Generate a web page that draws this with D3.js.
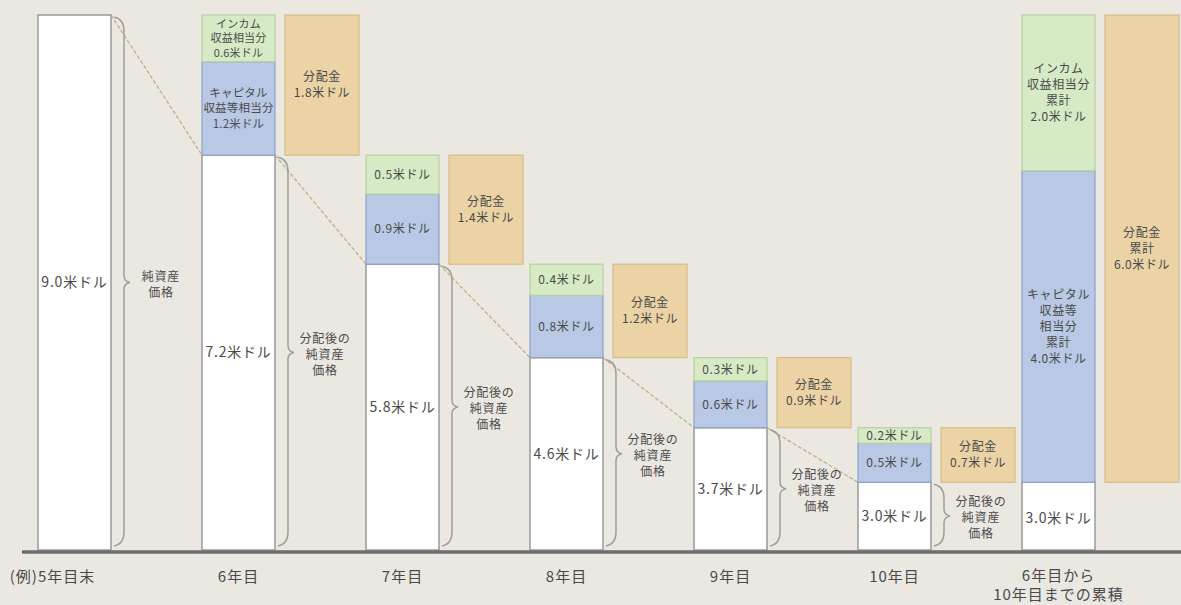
<!DOCTYPE html>
<html>
<head>
<meta charset="utf-8">
<script src="https://cdn.jsdelivr.net/npm/d3@7"></script>
<style>
  body { margin: 0; background: #ebe8e2; }
  svg text { font-family: "Noto Sans CJK JP", "Noto Sans", sans-serif; fill: #4a4a4a; }
</style>
</head>
<body>
<svg width="1181" height="605"></svg>
<script>
// categories (x axis)
const years = ["(例)5年目末", "6年目", "7年目", "8年目", "9年目", "10年目", "6年目から\n10年目までの累積"];
// net asset value after distribution (white part)
const netAsset = [9.0, 7.2, 5.8, 4.6, 3.7, 3.0, 3.0];
// capital gain part (blue)
const capital = [0, 1.2, 0.9, 0.8, 0.6, 0.5, 4.0];
// income part (green)
const income = [0, 0.6, 0.5, 0.4, 0.3, 0.2, 2.0];
// distribution (orange)
const distribution = [0, 1.8, 1.4, 1.2, 0.9, 0.7, 6.0];

// label prefixes
const incomePrefix = ["", "インカム\n収益相当分\n", "", "", "", "", "インカム\n収益相当分\n累計\n"];
const capitalPrefix = ["", "キャピタル\n収益等相当分\n", "", "", "", "", "キャピタル\n収益等\n相当分\n累計\n"];
const distPrefix = ["", "分配金\n", "分配金\n", "分配金\n", "分配金\n", "分配金\n", "分配金\n累計\n"];
const braceLabels = ["純資産\n価格", "分配後の\n純資産\n価格", "分配後の\n純資産\n価格", "分配後の\n純資産\n価格", "分配後の\n純資産\n価格", "分配後の\n純資産\n価格", ""];

const svg = d3.select("svg");
const baseY = 550;

const x = d3.scaleBand()
    .domain(years)
    .range([38, 1095])
    .paddingInner(0.555)
    .paddingOuter(0);
const bw = x.bandwidth();

// the chart uses a cut-off value axis
const y = d3.scaleLinear().domain([2.13, 9.0]).range([baseY, 15]);

const fmt = v => v.toFixed(1) + "米ドル";

const colors = {
    white: "#ffffff", whiteStroke: "#9a9a9a",
    blue: "#b8c8e5", blueStroke: "#8ea2c6",
    green: "#d6eac5", greenStroke: "#b5d19e",
    orange: "#ebd3a6", orangeStroke: "#d8bb86"
};

// multi-line centered text
function multiText(g, str, cx, cy, size, lh, ls) {
    const lines = str.split("\n");
    const t = g.append("text")
        .attr("text-anchor", "middle")
        .attr("font-size", size)
        .attr("letter-spacing", ls == null ? 0.6 : ls);
    lines.forEach((ln, i) => {
        t.append("tspan")
            .attr("x", cx)
            .attr("y", cy + (i - (lines.length - 1) / 2) * lh)
            .attr("dy", "0.35em")
            .text(ln);
    });
    return t;
}

// dashed decline line between the bars
const dashG = svg.append("g");
for (let i = 0; i < 5; i++) {
    dashG.append("line")
        .attr("x1", x(years[i]) + bw)
        .attr("y1", y(netAsset[i]))
        .attr("x2", x(years[i + 1]))
        .attr("y2", y(netAsset[i + 1]))
        .attr("stroke", "#c4ae84")
        .attr("stroke-width", 1.3)
        .attr("stroke-dasharray", "4,2");
}

const barG = svg.append("g");
const textG = svg.append("g");

years.forEach((yr, i) => {
    const x0 = x(yr);
    const cx = x0 + bw / 2;
    const net = netAsset[i];
    const cap = capital[i];
    const inc = income[i];

    // white part
    barG.append("rect")
        .attr("x", x0).attr("y", y(net))
        .attr("width", bw).attr("height", y(y.domain()[0]) - y(net))
        .attr("fill", colors.white).attr("stroke", colors.whiteStroke).attr("stroke-width", 1.5);
    multiText(textG, fmt(net), cx, (y(net) + baseY) / 2 + (i === 6 ? 2 : 0), 14, 15, 0.8);

    if (cap > 0) {
        barG.append("rect")
            .attr("x", x0).attr("y", y(net + cap))
            .attr("width", bw).attr("height", y(net) - y(net + cap))
            .attr("fill", colors.blue).attr("stroke", colors.blueStroke).attr("stroke-width", 1.2);
        multiText(textG, capitalPrefix[i] + fmt(cap), cx, (y(net) + y(net + cap)) / 2,
            i === 1 ? 11.5 : 12, i === 1 ? 15.5 : 16, i === 1 ? 0.2 : 0.6);
    }
    if (inc > 0) {
        barG.append("rect")
            .attr("x", x0).attr("y", y(net + cap + inc))
            .attr("width", bw).attr("height", y(net + cap) - y(net + cap + inc))
            .attr("fill", colors.green).attr("stroke", colors.greenStroke).attr("stroke-width", 1.2);
        multiText(textG, incomePrefix[i] + fmt(inc), cx, (y(net + cap) + y(net + cap + inc)) / 2,
            i === 1 ? 11 : 12, i === 1 ? 14.5 : 16, i === 1 ? 0.2 : 0.6);
    }
    if (distribution[i] > 0) {
        const ox = x0 + 83;
        barG.append("rect")
            .attr("x", ox).attr("y", y(net + distribution[i]))
            .attr("width", 74).attr("height", y(net) - y(net + distribution[i]))
            .attr("fill", colors.orange).attr("stroke", colors.orangeStroke).attr("stroke-width", 1.2);
        multiText(textG, distPrefix[i] + fmt(distribution[i]), ox + 37, (y(net) + y(net + distribution[i])) / 2, 12, 16);
    }

    // brace for the net asset part
    if (braceLabels[i]) {
        const bx = x0 + bw + 13;
        const top = y(net) + 2;
        const bot = baseY - 6;
        const mid = (y(net) + baseY) / 2;
        const p = d3.path();
        p.moveTo(bx - 10, top);
        p.quadraticCurveTo(bx, top + 2, bx, top + 14);
        p.lineTo(bx, mid - 7);
        p.quadraticCurveTo(bx, mid - 1, bx + 6, mid);
        p.quadraticCurveTo(bx, mid + 1, bx, mid + 7);
        p.lineTo(bx, bot - 12);
        p.quadraticCurveTo(bx, bot, bx - 10, bot + 2);
        barG.append("path")
            .attr("d", p.toString())
            .attr("fill", "none")
            .attr("stroke", "#a09e98")
            .attr("stroke-width", 1.5);
        multiText(textG, braceLabels[i], bx + 37, mid + 2, 12, 16, 0.8);
    }
});

// baseline
svg.append("line")
    .attr("x1", 22).attr("x2", 1181)
    .attr("y1", baseY + 2).attr("y2", baseY + 2)
    .attr("stroke", "#6e6e6e").attr("stroke-width", 3.5);

// x axis labels
const axG = svg.append("g");
years.forEach((yr, i) => {
    const cx = i === 0 ? x(yr) + bw / 2 - 22 : x(yr) + bw / 2;
    const lines = yr.split("\n");
    multiText(axG, yr, cx, lines.length > 1 ? 585 : 577, 15, 19, 1);
});
</script>
</body>
</html>
